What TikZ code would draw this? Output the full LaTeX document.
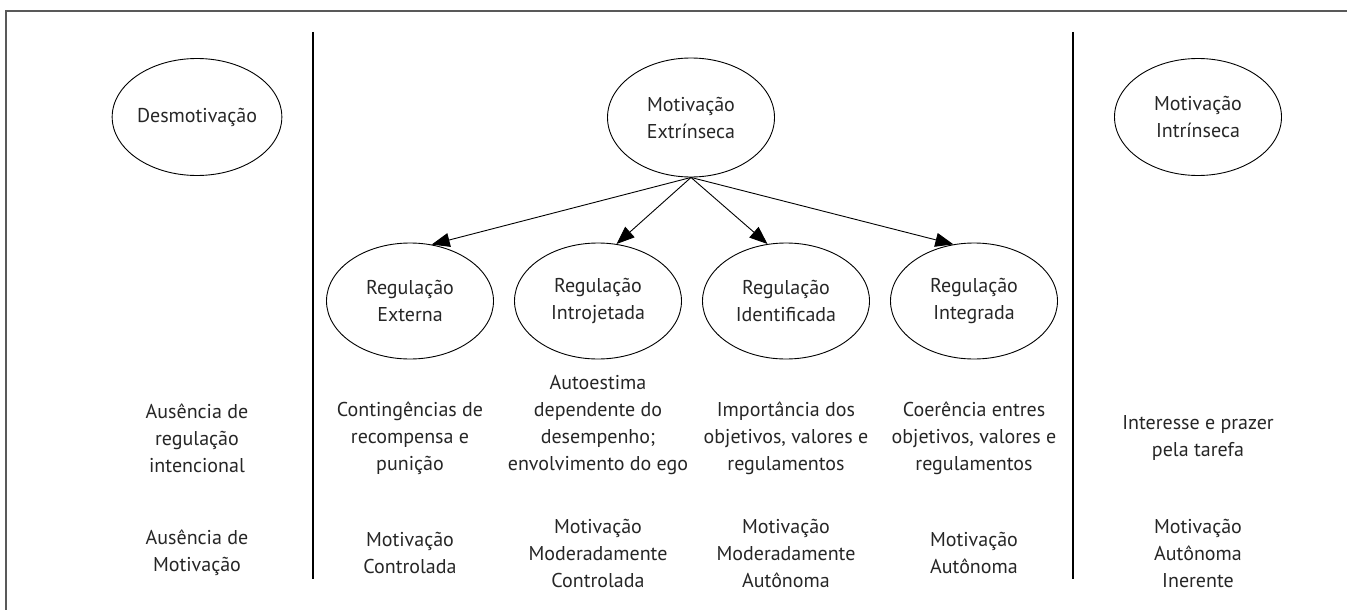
\documentclass[tikz,border=0pt]{standalone}
\usepackage{fontspec}
\setmainfont{PT Sans}
\usetikzlibrary{shapes.geometric,arrows.meta}
\begin{document}
\begin{tikzpicture}[x=1pt,y=-1pt,
  every node/.style={font=\fontsize{20}{27}\selectfont, text=black!85},
  oval/.style={draw, ellipse, line width=0.9pt, minimum width=167pt, minimum height=117pt, inner sep=0pt, align=center},
  txt/.style={align=center, inner sep=0pt},
  arr/.style={line width=0.9pt, -{Triangle[length=18pt,width=14pt]}},
  sep/.style={line width=1.1pt},
  frame/.style={line width=2pt, draw=black!65}]
\useasboundingbox (0,0) rectangle (1347,610);
% frame
\coordinate (fa) at (6,611);
\coordinate (fb) at (6,11);
\coordinate (fc) at (1348,11);
\draw[frame] (fa) -- (fb) -- (fc);
% separators
\coordinate (s1t) at (313,32);
\coordinate (s1b) at (313,579);
\coordinate (s2t) at (1073,32);
\coordinate (s2b) at (1073,579);
\draw[sep] (s1t) -- (s1b);
\draw[sep] (s2t) -- (s2b);
% ellipses
\node[oval] (des) at (197,117) {Desmotivação};
\node[oval, minimum height=119pt] (ext) at (691,117.5) {Motivação\\Extrínseca};
\node[oval] (int) at (1198,117) {Motivação\\Intrínseca};
\node[oval, minimum height=116pt] (r1) at (410,301) {Regulação\\Externa};
\node[oval, minimum height=116pt] (r2) at (598,301) {Regulação\\Introjetada};
\node[oval, minimum height=116pt] (r3) at (786,301) {Regulação\\Identificada};
\node[oval, minimum height=116pt] (r4) at (974,301) {Regulação\\Integrada};
% arrows
\draw[arr] (ext.south) -- (r1.69);
\draw[arr] (ext.south) -- (r2.72);
\draw[arr] (ext.south) -- (r3.108);
\draw[arr] (ext.south) -- (r4.110);
% row 2
\node[txt] (a1) at (197,438) {Ausência de\\regulação\\intencional};
\node[txt] (a2) at (410,438) {Contingências de\\recompensa e\\punição};
\node[txt] (a3) at (598,425) {Autoestima\\dependente do\\desempenho;\\envolvimento do ego};
\node[txt] (a4) at (786,438) {Importância dos\\objetivos, valores e\\regulamentos};
\node[txt] (a5) at (974,438) {Coerência entres\\objetivos, valores e\\regulamentos};
\node[txt] (a6) at (1198,438) {Interesse e prazer\\pela tarefa};
% row 3
\node[txt] (b1) at (197,553) {Ausência de\\Motivação};
\node[txt] (b2) at (410,553) {Motivação\\Controlada};
\node[txt] (b3) at (598,553) {Motivação\\Moderadamente\\Controlada};
\node[txt] (b4) at (786,553) {Motivação\\Moderadamente\\Autônoma};
\node[txt] (b5) at (974,553) {Motivação\\Autônoma};
\node[txt] (b6) at (1198,553) {Motivação\\Autônoma\\Inerente};
\end{tikzpicture}
\end{document}
